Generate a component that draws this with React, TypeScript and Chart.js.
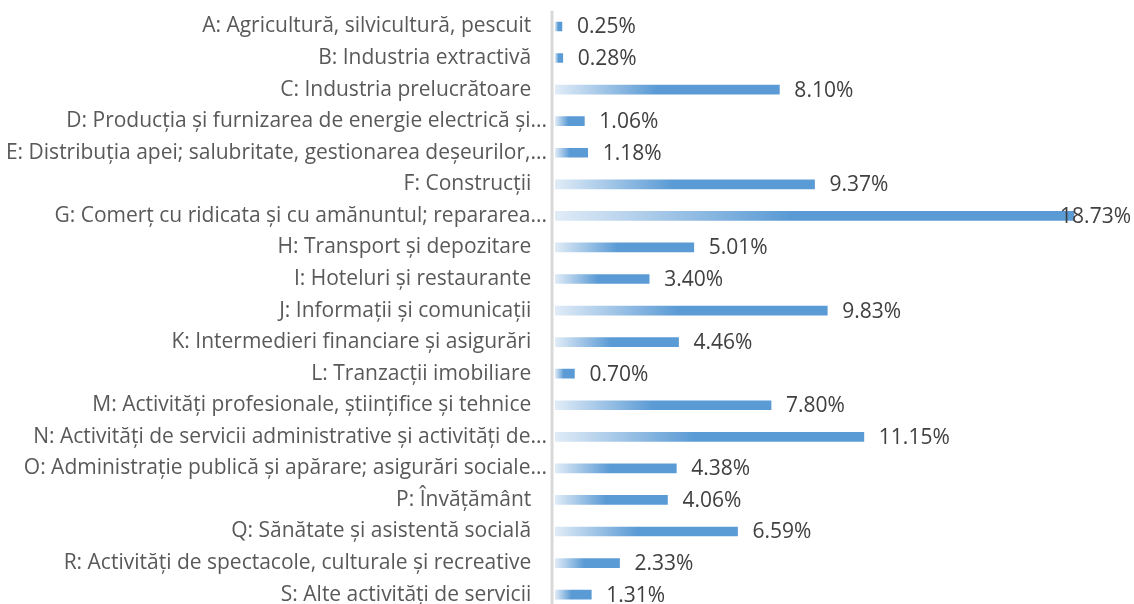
import React, { useEffect, useRef } from "react";
import { Chart, registerables } from "chart.js";

Chart.register(...registerables);

const categories: string[] = [
  "A: Agricultură, silvicultură, pescuit",
  "B: Industria extractivă",
  "C: Industria prelucrătoare",
  "D: Producția și furnizarea de energie electrică și...",
  "E: Distribuția apei; salubritate, gestionarea deșeurilor,...",
  "F: Construcții",
  "G: Comerț cu ridicata și cu amănuntul; repararea...",
  "H: Transport și depozitare",
  "I: Hoteluri și restaurante",
  "J: Informații și comunicații",
  "K: Intermedieri financiare și asigurări",
  "L: Tranzacții imobiliare",
  "M: Activități profesionale, științifice și tehnice",
  "N: Activități de servicii administrative și activități de...",
  "O: Administrație publică și apărare; asigurări sociale...",
  "P: Învățământ",
  "Q: Sănătate și asistentă socială",
  "R: Activități de spectacole, culturale și recreative",
  "S: Alte activități de servicii",
];

const shares: number[] = [
  0.25, 0.28, 8.1, 1.06, 1.18, 9.37, 18.73, 5.01, 3.4, 9.83, 4.46, 0.7, 7.8,
  11.15, 4.38, 4.06, 6.59, 2.33, 1.31,
];

const FONT = "'Open Sans', sans-serif";
const LABEL_SIZE = 21;
const VALUE_SIZE = 21;

const valueLabels = {
  id: "valueLabels",
  afterDatasetsDraw(chart: any) {
    const { ctx, chartArea } = chart;
    ctx.save();
    ctx.fillStyle = "#d9d9d9";
    ctx.fillRect(chartArea.left - 4.5, chartArea.top, 3, chartArea.bottom - chartArea.top);
    const meta = chart.getDatasetMeta(0);
    ctx.font = `${VALUE_SIZE}px ${FONT}`;
    ctx.fillStyle = "#404040";
    ctx.textBaseline = "middle";
    ctx.textAlign = "left";
    meta.data.forEach((bar: any, i: number) => {
      const txt = shares[i].toFixed(2) + "%";
      const w = ctx.measureText(txt).width;
      let x = bar.x + 15;
      if (x + w > chart.width - 3) x = chart.width - 3 - w;
      ctx.fillText(txt, x, bar.y + 1);
    });
    ctx.restore();
  },
};

export default function App() {
  const ref = useRef<HTMLCanvasElement | null>(null);
  useEffect(() => {
    document.body.style.margin = "0";
    const c = new Chart(ref.current as HTMLCanvasElement, {
      type: "bar",
      data: {
        labels: categories,
        datasets: [
          {
            data: shares,
            barThickness: 9,
            backgroundColor: (ctx: any) => {
              const chart = ctx.chart;
              const xs = chart.scales.x;
              if (!chart.chartArea || !xs) return "#5b9bd5";
              const v = ctx.raw as number;
              const x0 = xs.getPixelForValue(0);
              const x1 = xs.getPixelForValue(v);
              const g = chart.ctx.createLinearGradient(x0, 0, x1, 0);
              g.addColorStop(0, "#e1ecf7");
              g.addColorStop(0.45, "#5b9bd5");
              g.addColorStop(1, "#5b9bd5");
              return g;
            },
          },
        ],
      },
      options: {
        indexAxis: "y",
        responsive: false,
        animation: false,
        layout: { padding: { left: 0, right: 25, top: 10.7, bottom: 1.6 } },
        plugins: { legend: { display: false }, tooltip: { enabled: false } },
        scales: {
          x: { display: false, min: 0, max: 20 },
          y: {
            grid: { display: false },
            border: { display: false },
            afterFit: (scale: any) => {
              scale.width = 555;
              scale.paddingTop = 0;
              scale.paddingBottom = 0;
            },
            ticks: {
              padding: 0,
              color: "#595959",
              font: { family: FONT, size: LABEL_SIZE },
              callback: function (this: any, value: any) {
                const lab = categories[value as number];
                return lab.endsWith("...") ? lab : lab + "\u2002\u2005";
              },
            },
          },
        },
      },
      plugins: [valueLabels],
    });
    return () => c.destroy();
  }, []);
  return (
    <div style={{ position: "fixed", left: 0, top: 0, width: 1134, height: 604, overflow: "hidden", background: "#fff" }}>
      <canvas ref={ref} width={1134} height={612} style={{ display: "block" }} />
    </div>
  );
}
